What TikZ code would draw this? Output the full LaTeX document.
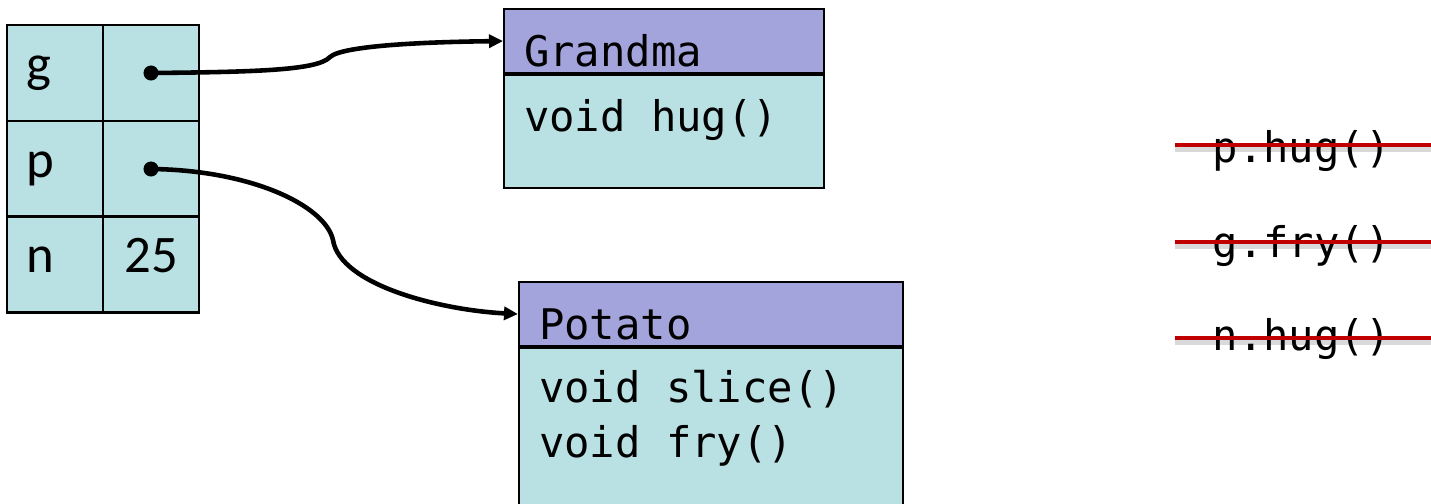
\documentclass[tikz,border=0pt]{standalone}
\usepackage{fontspec}
\setmainfont{Carlito}
\newfontfamily\codefont{DejaVu Sans Mono}
\newcommand\csp{\hspace*{0.602em}}
\usetikzlibrary{arrows.meta,positioning}
\definecolor{cellfill}{RGB}{185,224,227}
\definecolor{headfill}{RGB}{164,164,220}
\definecolor{strikered}{RGB}{192,0,0}
\tikzset{
  cell/.style={draw,fill=cellfill,line width=0.6pt,minimum width=0.96cm,minimum height=0.96cm,
    inner sep=0pt,text height=0.16cm,text depth=0cm,font=\fontsize{15}{17}\selectfont},
  namecell/.style={cell,text width=0.56cm,align=left},
  classhead/.style={draw,fill=headfill,line width=0.6pt,anchor=north west,inner xsep=0.2cm,inner ysep=0pt,
    minimum height=0.64cm,text height=0.5cm,text depth=0cm,align=left,font=\codefont\fontsize{12}{15.6}\selectfont},
  classbody/.style={draw,fill=cellfill,line width=0.6pt,inner xsep=0.2cm,inner ysep=0pt,
    align=left,font=\codefont\fontsize{12}{15.6}\selectfont},
  call/.style={anchor=base west,inner sep=0pt,font=\codefont\fontsize{12}{15.6}\selectfont},
  ptr/.style={line width=1.3pt,-{Triangle[length=0.14cm,width=0.13cm]}},
  strike/.style={line width=1.4pt,draw=strikered,
    preaction={draw=black,opacity=0.15,line width=2pt,transform canvas={yshift=-0.03cm}}}
}
\begin{document}
\begin{tikzpicture}[x=0.01cm,y=-0.01cm]
\useasboundingbox (0,0) rectangle (1431,503);
% variables
\node[namecell] (gn) at (55,73) {g};
\node[cell] (gv) at (151,73) {};
\node[namecell] (pn) at (55,169) {p};
\node[cell] (pv) at (151,169) {};
\node[namecell] (nn) at (55,264.5) {n};
\node[cell] (nv) at (151,264.5) {25};
% objects
\node[classhead,text width=2.8cm] (gma) at (503,8) {Grandma};
\node[classbody,below=0pt of gma,text width=2.8cm,minimum height=1.13cm,text height=0.3cm,text depth=0.3cm] (gmab) {void\csp hug()};
\node[classhead,text width=3.44cm] (pot) at (518,281) {Potato};
\node[classbody,below=0pt of pot,text width=3.44cm,minimum height=1.76cm,text height=0.3cm,text depth=0.98cm] (potb) {void\csp slice()\\void\csp fry()};
% pointers
\fill (gv.center) circle[radius=0.075cm];
\fill (pv.center) circle[radius=0.075cm];
\draw[ptr] (gv.center) .. controls (260,72) and (318,70) .. (330,57) .. controls (342,46) and (420,42) .. (gma.west);
\draw[ptr] (pv.center) .. controls (250,170) and (325,205) .. (333,240) .. controls (340,285) and (440,310) .. (pot.west);
% calls that do not compile
\node[call] (ph) at (1212,162) {p.hug()};
\node[call] (gf) at (1212,257) {g.fry()};
\node[call] (nh) at (1212,350) {n.hug()};
\draw[strike] (1175,145) -- (1431,145);
\draw[strike] (1175,242) -- (1431,242);
\draw[strike] (1175,338) -- (1431,338);
\end{tikzpicture}
\end{document}
